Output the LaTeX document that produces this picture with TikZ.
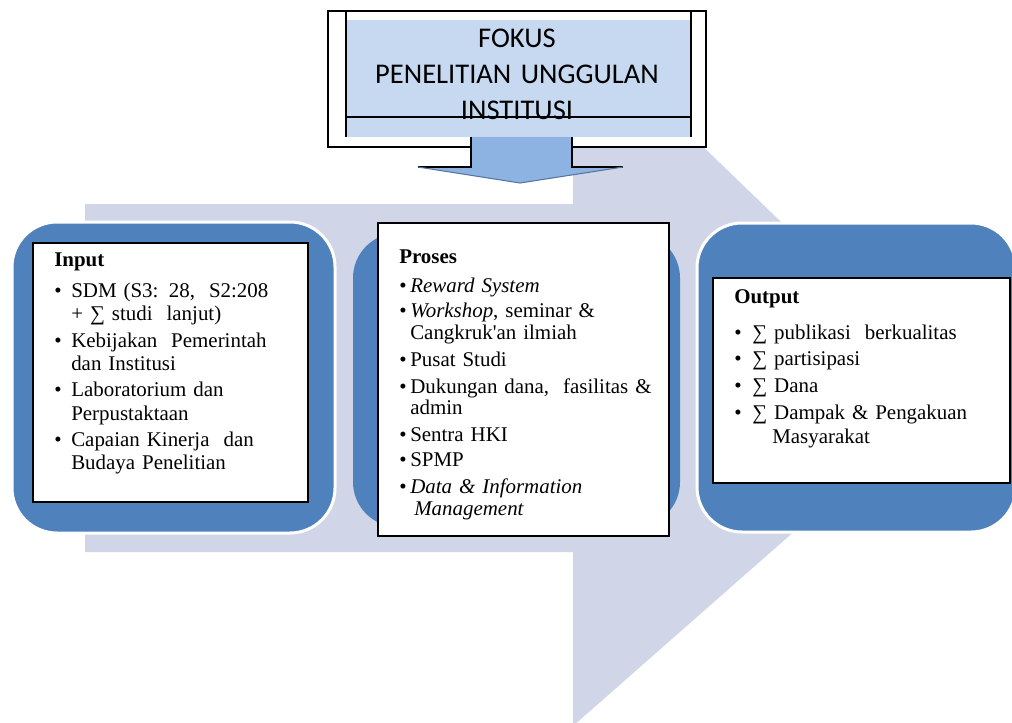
\documentclass[tikz,border=0pt]{standalone}
\usepackage{fontspec}
\setmainfont{Liberation Serif}
\newfontfamily\calibri{Carlito}
\usetikzlibrary{fit}

\definecolor{lavender}{HTML}{D0D6E8}
\definecolor{panelblue}{HTML}{4F81BD}
\definecolor{paleblue}{HTML}{C6D9F1}
\definecolor{arrowblue}{HTML}{8DB3E2}
\definecolor{arrowedge}{HTML}{56769F}

% bullet and hanging indent for the lists
\newcommand{\inbul}{\makebox[12.75pt][l]{\textbullet}}
\newcommand{\inind}{\hspace*{12.75pt}}
\newcommand{\prbul}{\makebox[8.25pt][l]{\textbullet}}
\newcommand{\prind}{\hspace*{8.25pt}}
\newcommand{\outbul}{\makebox[13.5pt][l]{\textbullet}}

\begin{document}
\begin{tikzpicture}[
        x=0.75pt, y=-0.75pt,
        panel/.style={rectangle, rounded corners=33.75pt, fill=panelblue, inner sep=0pt},
        rimpanel/.style={panel, draw=white, line width=2.25pt},
        txtbox/.style={rectangle, draw=black, fill=white, line width=0.8pt, inner sep=0pt},
        listtext/.style={anchor=base west, inner sep=0pt, align=left, font=\fontsize{15.7pt}{16.1pt}\selectfont},
        fokusframe/.style={rectangle, draw=black, fill=white, line width=0.8pt, inner sep=0pt}
    ]
    \path[use as bounding box] (0,0) rectangle (1012,722);
    \clip (0,0) rectangle (1012,722);

    % Background arrow
    \fill[lavender] (85,204) -- (573,204) -- (573,21) -- (955,390) -- (573,726)
        -- (573,552) -- (85,552) -- cycle;

    % Focus box
    \node[fokusframe, fit={(328,11) (706,147)}] (fokus) {};
    \fill[paleblue] (346,20) rectangle (691,137);
    \draw[line width=0.8pt] (346,11) -- (346,137);
    \draw[line width=0.8pt] (691,11) -- (691,137);
    \node[anchor=base, inner sep=0pt, text width=330pt, align=center,
        font=\calibri\fontsize{21.4pt}{27pt}\selectfont] (fokustxt) at (517,47)
        {FOKUS\\PENELITIAN UNGGULAN\\INSTITUSI};
    \draw[line width=0.8pt] (346,117) -- (691,117);

    % Down arrow
    \fill[arrowblue] (471,137) -- (471,167) -- (418,167) -- (520,183) -- (623,167)
        -- (572,167) -- (572,137) -- cycle;
    \draw[line width=0.8pt] (471,137) -- (471,167) -- (418,167);
    \draw[line width=0.8pt] (572,137) -- (572,167) -- (623,167);
    \draw[arrowedge, line width=0.8pt] (418,167) -- (520,183) -- (623,167);

    % Panels
    \node[rimpanel, fit={(12,222) (335,533)}] (inpanel) {};
    \node[panel, fit={(353,233) (680,527)}] (propanel) {};
    \node[rimpanel, fit={(697,223) (1016,532)}] (outpanel) {};

    % Text boxes
    \node[txtbox, fit={(33,243) (308,502)}] (input) {};
    \node[txtbox, fit={(378,223) (669,536)}] (proses) {};
    \node[txtbox, fit={(713,278) (1010,483)}] (output) {};

    % Input
    \node[listtext, text width=190pt, font=\fontsize{15.7pt}{17.3pt}\selectfont] (inputtxt) at (54,266) {
        \textbf{Input}\\[6.5pt]
        \inbul SDM (S3: 28,\ \ S2:208\\
        \inind + ∑ studi\ \ lanjut)\\[2.6pt]
        \inbul Kebijakan\ \ Pemerintah\\
        \inind dan Institusi\\[2.6pt]
        \inbul Laboratorium dan\\
        \inind Perpustaktaan\\[2.6pt]
        \inbul Capaian\ Kinerja\ \ dan\\
        \inind Budaya Penelitian
    };

    % Proses
    \node[listtext, text width=200pt] (prosestxt) at (399,263) {
        \textbf{Proses}\\[6pt]
        \prbul\textit{Reward System}\\[3pt]
        \prbul\textit{Workshop}, seminar \&\\
        \prind Cangkruk\textquotesingle an\ ilmiah\\[4pt]
        \prbul Pusat Studi\\[4pt]
        \prbul Dukungan\ dana,\ \ fasilitas\ \&\\
        \prind admin\\[4pt]
        \prbul Sentra HKI\\[3pt]
        \prbul SPMP\\[4pt]
        \prbul\textit{Data \& Information}\\
        \prind\hspace*{3pt}\textit{Management}
    };

    % Output
    \node[listtext, text width=205pt] (outputtxt) at (734,303) {
        \textbf{Output}\\[11pt]
        \outbul ∑ publikasi\ \ berkualitas\\[4pt]
        \outbul ∑ partisipasi\\[4pt]
        \outbul ∑ Dana\\[4pt]
        \outbul ∑ Dampak \& Pengakuan\\[2pt]
        \hspace*{28.5pt}Masyarakat
    };

\end{tikzpicture}
\end{document}
